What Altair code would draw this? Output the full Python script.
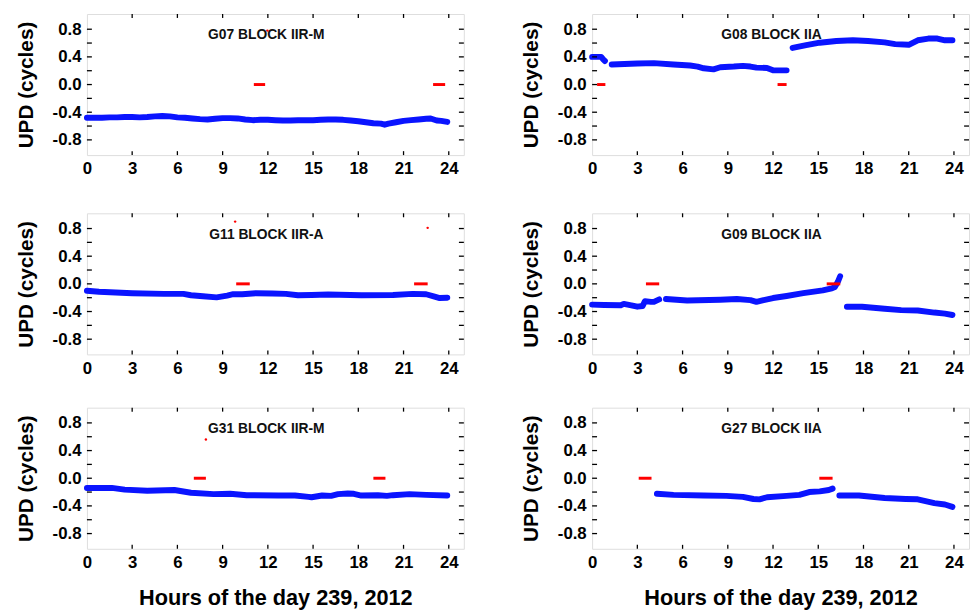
import altair as alt
import pandas as pd

# ---------------- data ----------------
X_LABELS = [0, 3, 6, 9, 12, 15, 18, 21, 24]
X_TICKS = [3, 6, 9, 12, 15, 18, 21, 24]
Y_LABELS = [-0.8, -0.4, 0.0, 0.4, 0.8]
Y_TICKS = [-0.8, -0.6, -0.4, -0.2, 0.0, 0.2, 0.4, 0.6, 0.8]

# G07 BLOCK IIR-M
g07_h = [0, 0.5, 1, 1.5, 2, 2.5, 3, 3.5, 4, 4.5, 5, 5.5, 6, 6.5, 7, 7.5, 8, 8.5, 9, 9.5,
         10, 10.5, 11, 11.5, 12, 12.5, 13, 13.5, 14, 14.5, 15, 15.5, 16, 16.5, 17, 17.5,
         18, 18.5, 19, 19.5, 19.75, 20, 20.5, 21, 21.5, 22, 22.5, 22.8, 23.2, 23.5, 23.9]
g07_v = [-0.48, -0.48, -0.48, -0.475, -0.475, -0.47, -0.47, -0.475, -0.47, -0.46, -0.455,
         -0.46, -0.475, -0.48, -0.49, -0.50, -0.505, -0.495, -0.485, -0.485, -0.49, -0.505,
         -0.515, -0.51, -0.51, -0.515, -0.52, -0.52, -0.515, -0.515, -0.515, -0.51, -0.505,
         -0.505, -0.51, -0.52, -0.53, -0.545, -0.56, -0.565, -0.58, -0.565, -0.545, -0.525,
         -0.515, -0.505, -0.495, -0.49, -0.52, -0.525, -0.54]
g07_red_start = [11.07, 22.96]
g07_red_end = [11.82, 23.76]
g07_dot_h = [11.97]
g07_dot_v = [0.78]

# G08 BLOCK IIA
g08_s1_h = [0, 0.3, 0.6, 0.75, 0.85]
g08_s1_v = [0.40, 0.40, 0.40, 0.36, 0.34]
g08_s2_h = [1.3, 3, 4.1, 5.4, 6.5, 7, 7.4, 8.05, 8.5, 9.4, 10, 10.5, 10.9, 11.6, 12, 12.9]
g08_s2_v = [0.29, 0.305, 0.31, 0.29, 0.275, 0.26, 0.235, 0.22, 0.25, 0.26, 0.27, 0.26,
            0.245, 0.24, 0.205, 0.205]
g08_s3_h = [13.3, 14.2, 15.1, 16.2, 17.3, 18.3, 19.4, 20.1, 21, 21.6, 22.3, 22.9, 23.4, 23.9]
g08_s3_v = [0.53, 0.57, 0.605, 0.63, 0.64, 0.63, 0.61, 0.585, 0.575, 0.64, 0.665, 0.665,
            0.64, 0.64]
g08_red_start = [0.33, 12.3]
g08_red_end = [0.88, 12.9]

# G11 BLOCK IIR-A
g11_h = [0, 0.8, 3, 5.1, 6.4, 6.9, 7.7, 8.6, 9.3, 9.7, 10.3, 11.2, 12.3, 13.2, 14, 14.9,
         16, 18.2, 20.3, 21.6, 22.5, 23, 23.4, 23.9]
g11_v = [-0.10, -0.115, -0.135, -0.145, -0.145, -0.165, -0.18, -0.195, -0.17, -0.15, -0.15,
         -0.135, -0.14, -0.145, -0.165, -0.16, -0.155, -0.165, -0.16, -0.145, -0.15, -0.18,
         -0.205, -0.20]
g11_red_start = [9.9, 21.7]
g11_red_end = [10.8, 22.6]
g11_dot_h = [9.83, 22.6]
g11_dot_v = [0.90, 0.81]

# G09 BLOCK IIA
g09_s1_h = [0, 0.8, 1.9, 2.1, 2.6, 3, 3.35, 3.5, 3.9, 4.1, 4.45]
g09_s1_v = [-0.30, -0.305, -0.31, -0.29, -0.31, -0.33, -0.32, -0.25, -0.26, -0.26, -0.225]
g09_s2_h = [4.9, 6.3, 8.5, 9.6, 10.5, 10.9, 11.3, 12, 12.9, 14, 14.6, 15.3, 15.9, 16.1,
            16.3, 16.45]
g09_s2_v = [-0.22, -0.24, -0.23, -0.22, -0.235, -0.26, -0.24, -0.205, -0.175, -0.135,
            -0.115, -0.095, -0.065, -0.045, 0.03, 0.11]
g09_s3_h = [16.9, 17.9, 19.4, 20.5, 21.6, 22.7, 23.4, 23.9]
g09_s3_v = [-0.33, -0.33, -0.36, -0.38, -0.385, -0.415, -0.43, -0.45]
g09_red_start = [3.57, 15.56]
g09_red_end = [4.45, 16.46]

# G31 BLOCK IIR-M
g31_h = [0, 1.65, 2.5, 4, 5.8, 6.9, 8.4, 9.5, 10.6, 12.7, 13.8, 14.7, 14.9, 15.6, 16.2,
         16.65, 17.3, 17.7, 18.2, 19.3, 19.9, 20.3, 21.4, 22.5, 23.9]
g31_v = [-0.14, -0.14, -0.165, -0.18, -0.17, -0.21, -0.23, -0.225, -0.245, -0.25, -0.25,
         -0.27, -0.275, -0.25, -0.255, -0.23, -0.22, -0.225, -0.25, -0.245, -0.255, -0.245,
         -0.23, -0.24, -0.25]
g31_red_start = [7.09, 19.0]
g31_red_end = [7.89, 19.8]
g31_dot_h = [7.89]
g31_dot_v = [0.56]

# G27 BLOCK IIA
g27_s1_h = [4.3, 5.4, 7.4, 8.9, 10, 10.7, 11.1, 11.6, 12.9, 13.75, 14.4, 15.1, 15.7, 15.95]
g27_s1_v = [-0.225, -0.24, -0.25, -0.255, -0.27, -0.30, -0.305, -0.275, -0.255, -0.24,
            -0.20, -0.19, -0.17, -0.15]
g27_s2_h = [16.4, 17.7, 19.4, 20.8, 21.6, 22.7, 23.4, 23.9]
g27_s2_v = [-0.25, -0.25, -0.285, -0.30, -0.305, -0.36, -0.38, -0.415]
g27_red_start = [3.09, 15.07]
g27_red_end = [3.94, 15.95]

X_TITLE = "Hours of the day 239, 2012"
Y_TITLE = "UPD (cycles)"

# ---------------- styling ----------------
W = 382
H = 143
FONT = "Liberation Sans"
BLUE = "#0a14ff"
RED = "#ff0000"


def panel(name, segs, red_s, red_e, dot_h, dot_v, xtitle):
    rows = []
    for i, (hs, vs) in enumerate(segs):
        for h, v in zip(hs, vs):
            rows.append({"h": h, "v": v, "seg": i})
    blue_df = pd.DataFrame(rows)

    xaxis = alt.Axis(values=X_LABELS, format="d", ticks=False, tickSize=0, domain=False,
                     grid=False, labelFont=FONT, labelFontSize=17, labelFontWeight="bold",
                     labelColor="black", labelPadding=6, labelFlush=False,
                     title=xtitle, titleFont=FONT, titleFontSize=22,
                     titleFontWeight="bold", titleColor="black", titlePadding=17)
    yaxis = alt.Axis(values=Y_LABELS, ticks=False, tickSize=0, domain=False, grid=False,
                     labelExpr="replace(format(datum.value, '.1f'), '\u2212', '-')",
                     labelFont=FONT, labelFontSize=17, labelFontWeight="bold",
                     labelColor="black", labelPadding=6, labelFlush=False,
                     title=Y_TITLE, titleFont=FONT, titleFontSize=21,
                     titleFontWeight="bold", titleColor="black", titlePadding=16)
    x = alt.X("h:Q", scale=alt.Scale(domain=[0, 25], nice=False, zero=False), axis=xaxis)
    y = alt.Y("v:Q", scale=alt.Scale(domain=[-1.02, 1.02], nice=False, zero=False), axis=yaxis)

    line = alt.Chart(blue_df).mark_line(
        color=BLUE, strokeWidth=6, strokeCap="round", strokeJoin="round"
    ).encode(x=x, y=y, detail="seg:N")

    red_df = pd.DataFrame({"h": red_s, "h2": red_e, "v": [0.0] * len(red_s)})
    red = alt.Chart(red_df).mark_rule(color=RED, strokeWidth=3).encode(
        x=x, x2="h2:Q", y=y)

    layers = [line, red]
    if dot_h:
        dots_df = pd.DataFrame({"h": dot_h, "v": dot_v})
        layers.append(alt.Chart(dots_df).mark_circle(color=RED, size=6, opacity=1).encode(x=x, y=y))

    txt_df = pd.DataFrame({"h": [11.9], "v": [0.71], "t": [name]})
    layers.append(alt.Chart(txt_df).mark_text(
        font=FONT, fontSize=14, fontWeight="bold", color="#111111",
        align="center", baseline="middle").encode(x=x, y=y, text="t:N"))

    yt = pd.DataFrame({"v": Y_TICKS})
    xt = pd.DataFrame({"h": X_TICKS})
    tick_style = dict(color="black", strokeWidth=1.3)
    layers.append(alt.Chart(yt).mark_rule(**tick_style).encode(
        y=y, x=alt.value(0), x2=alt.value(5)))
    layers.append(alt.Chart(yt).mark_rule(**tick_style).encode(
        y=y, x=alt.value(W - 5), x2=alt.value(W)))
    layers.append(alt.Chart(xt).mark_rule(**tick_style).encode(
        x=x, y=alt.value(H), y2=alt.value(H - 4)))
    layers.append(alt.Chart(xt).mark_rule(**tick_style).encode(
        x=x, y=alt.value(0), y2=alt.value(4)))

    return alt.layer(*layers).properties(width=W, height=H)


p07 = panel("G07 BLOCK IIR-M", [(g07_h, g07_v)], g07_red_start, g07_red_end,
            g07_dot_h, g07_dot_v, None)
p08 = panel("G08 BLOCK IIA", [(g08_s1_h, g08_s1_v), (g08_s2_h, g08_s2_v), (g08_s3_h, g08_s3_v)],
            g08_red_start, g08_red_end, [], [], None)
p11 = panel("G11 BLOCK IIR-A", [(g11_h, g11_v)], g11_red_start, g11_red_end,
            g11_dot_h, g11_dot_v, None)
p09 = panel("G09 BLOCK IIA", [(g09_s1_h, g09_s1_v), (g09_s2_h, g09_s2_v), (g09_s3_h, g09_s3_v)],
            g09_red_start, g09_red_end, [], [], None)
p31 = panel("G31 BLOCK IIR-M", [(g31_h, g31_v)], g31_red_start, g31_red_end,
            g31_dot_h, g31_dot_v, X_TITLE)
p27 = panel("G27 BLOCK IIA", [(g27_s1_h, g27_s1_v), (g27_s2_h, g27_s2_v)],
            g27_red_start, g27_red_end, [], [], X_TITLE)

COL_GAP = 55
row1 = alt.hconcat(p07, p08, spacing=COL_GAP)
row2 = alt.hconcat(p11, p09, spacing=COL_GAP)
row3 = alt.hconcat(p31, p27, spacing=COL_GAP)

top = alt.vconcat(row1, row2, spacing=34)
chart = alt.vconcat(top, row3, spacing=29).properties(
    padding={"left": 7, "top": 0, "right": 0, "bottom": 0}
).configure_view(stroke="black", strokeWidth=1.6).configure(background="white")

chart.save("out.html", embed_options={"renderer": "svg", "actions": False})
